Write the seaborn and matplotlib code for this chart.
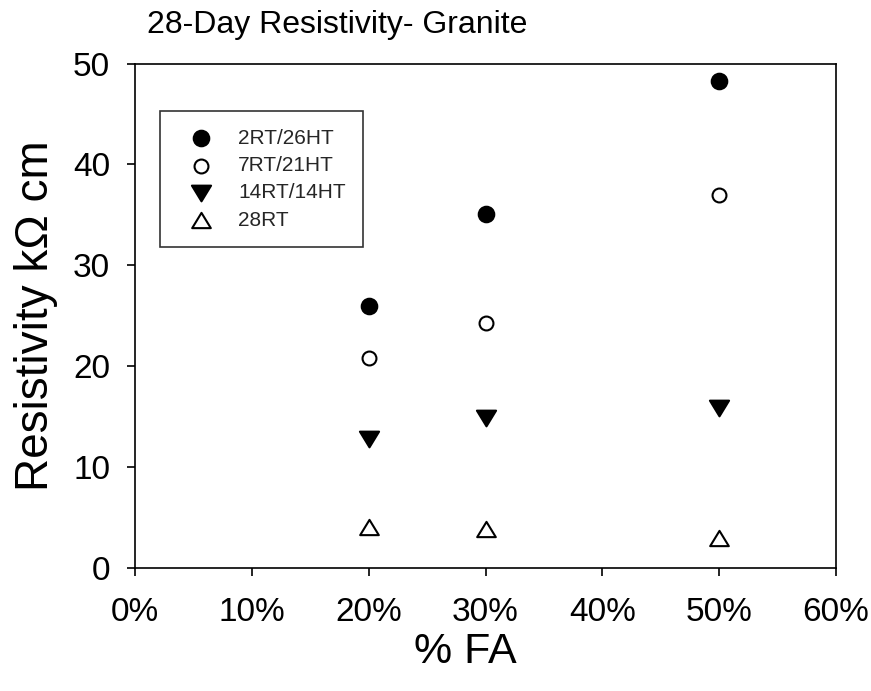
import numpy as np
import pandas as pd
import matplotlib
matplotlib.use("Agg")
import matplotlib.pyplot as plt
from matplotlib.path import Path
from matplotlib.ticker import PercentFormatter
import seaborn as sns

# ---- data ----
fa = [0.20, 0.30, 0.50]
series_names = ["2RT/26HT", "7RT/21HT", "14RT/14HT", "28RT"]
rt2_ht26 = [25.9, 35.1, 48.3]
rt7_ht21 = [20.8, 24.3, 37.0]
rt14_ht14 = [12.7, 14.8, 15.8]
rt28 = [4.0, 3.8, 2.9]
x_ticks = [0.0, 0.1, 0.2, 0.3, 0.4, 0.5, 0.6]
y_ticks = [0, 10, 20, 30, 40, 50]

values = [rt2_ht26, rt7_ht21, rt14_ht14, rt28]

sns.set_theme(style="white")
plt.rcParams["font.family"] = ["Liberation Sans", "DejaVu Sans"]

fig = plt.figure(figsize=(8.71, 6.91), dpi=100)
ax = fig.add_axes([135/871, 1-567.5/691, (836-135)/871, (567.5-63.5)/691])

tri_down = Path([(-1, 0.82), (1, 0.82), (0, -0.82), (-1, 0.82)],
                [Path.MOVETO, Path.LINETO, Path.LINETO, Path.CLOSEPOLY])
tri_up = Path([(-1, -0.82), (1, -0.82), (0, 0.82), (-1, -0.82)],
              [Path.MOVETO, Path.LINETO, Path.LINETO, Path.CLOSEPOLY])

styles = [
    dict(marker="o", facecolor="black", s=125),
    dict(marker="o", facecolor="white", s=100),
    dict(marker=tri_down, facecolor="black", s=190),
    dict(marker=tri_up, facecolor="white", s=180),
]

for name, vals, st in zip(series_names, values, styles):
    df = pd.DataFrame({"fa": fa, "val": vals})
    sns.scatterplot(data=df, x="fa", y="val", ax=ax, marker=st["marker"],
                    s=st["s"], facecolor=st["facecolor"], edgecolor="black",
                    linewidth=1.5, label=name, zorder=3)

ax.set_xlim(0, 0.6)
ax.set_ylim(0, 50)
ax.set_xticks(x_ticks)
ax.set_yticks(y_ticks)
ax.xaxis.set_major_formatter(PercentFormatter(xmax=1.0, decimals=0))

for sp in ax.spines.values():
    sp.set_visible(True)
    sp.set_color("black")
    sp.set_linewidth(1.2)

ax.tick_params(axis="both", which="major", direction="out", length=6,
               width=1.2, color="black", labelsize=24, labelcolor="black",
               bottom=True, left=True)
ax.tick_params(axis="x", pad=15)
ax.tick_params(axis="y", pad=12)

ax.set_xlabel("% FA", fontsize=31, color="black")
ax.set_ylabel("Resistivity k\u03a9 cm", fontsize=33, color="black")
ax.xaxis.set_label_coords(0.471, -0.128)
ax.yaxis.set_label_coords(-0.11, 0.5)

fig.text(147/871, 1-33/691, "28-Day Resistivity- Granite", fontsize=23,
         color="black", ha="left", va="baseline")

leg = ax.legend(loc="upper left", bbox_to_anchor=(160/871, 1-111/691),
                bbox_transform=fig.transFigure, borderaxespad=0,
                fontsize=15, frameon=True, fancybox=False, shadow=False,
                borderpad=0.85, handlelength=2.24, handletextpad=0.66,
                labelspacing=0.4, markerscale=1.0)
leg.get_frame().set_edgecolor("black")
leg.get_frame().set_linewidth(1.2)

fig.savefig("out.png", dpi=100)
